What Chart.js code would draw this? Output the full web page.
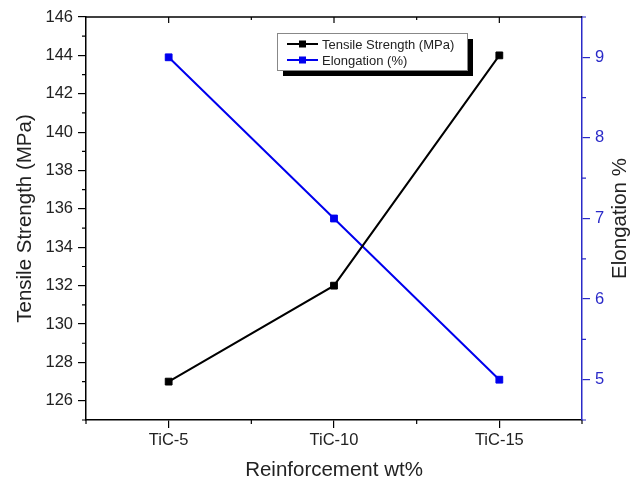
<!DOCTYPE html>
<html>
<head>
<meta charset="utf-8">
<script src="https://cdn.jsdelivr.net/npm/chart.js@4/dist/chart.umd.min.js"></script>
<style>
  body { margin: 0; background: #fff; }
  #wrap { width: 638px; height: 483px; position: relative; }
</style>
</head>
<body>
<div id="wrap"><canvas id="chart"></canvas></div>
<script>
// dados
const categories = ['TiC-5', 'TiC-10', 'TiC-15'];
const tensileStrength = [127, 132, 144];
const elongation = [9, 7, 5];
const tensileTicks = [126, 128, 130, 132, 134, 136, 138, 140, 142, 144, 146];
const elongationTicks = [5, 6, 7, 8, 9];
const tensileMinorTicks = [125, 127, 129, 131, 133, 135, 137, 139, 141, 143, 145];
const elongationMinorTicks = [4.5, 5.5, 6.5, 7.5, 8.5, 9.5];

const FONT = "'Liberation Sans', Arial, sans-serif";
const BLUE = '#0000ee';
const AXIS_BLUE = '#2a2ac8';

// ticks menores, moldura de cima, títulos e legenda
const extras = {
  id: 'extras',
  afterDraw(chart) {
    const ctx = chart.ctx;
    const a = chart.chartArea;
    const x = chart.scales.x, y = chart.scales.y, y1 = chart.scales.y1;
    ctx.save();

    // moldura de cima
    ctx.strokeStyle = '#000';
    ctx.lineWidth = 1.5;
    ctx.beginPath();
    ctx.moveTo(a.left, a.top);
    ctx.lineTo(a.right, a.top);
    ctx.stroke();

    ctx.lineWidth = 1.2;
    ctx.beginPath();
    tensileMinorTicks.forEach(v => {
      const py = y.getPixelForValue(v);
      ctx.moveTo(a.left, py); ctx.lineTo(a.left - 4, py);
    });
    // ticks de cima e de baixo
    const step = x.getPixelForValue(1) - x.getPixelForValue(0);
    categories.forEach((c, i) => {
      const px = x.getPixelForValue(i);
      ctx.moveTo(px, a.top); ctx.lineTo(px, a.top + 6);
    });
    for (let i = -1; i < categories.length; i++) {
      const px = x.getPixelForValue(i) + step / 2;
      ctx.moveTo(px, a.bottom); ctx.lineTo(px, a.bottom + 4);
      if (i >= 0 && i < categories.length - 1) {
        ctx.moveTo(px, a.top); ctx.lineTo(px, a.top + 3);
      }
    }
    ctx.stroke();

    ctx.strokeStyle = AXIS_BLUE;
    ctx.beginPath();
    elongationMinorTicks.forEach(v => {
      const py = y1.getPixelForValue(v);
      ctx.moveTo(a.right, py); ctx.lineTo(a.right + 4, py);
    });
    ctx.stroke();

    // títulos dos eixos
    ctx.fillStyle = '#222';
    ctx.font = '20.5px ' + FONT;
    ctx.textAlign = 'center';
    ctx.textBaseline = 'middle';
    const midY = (a.top + a.bottom) / 2;
    ctx.fillText('Reinforcement wt%', (a.left + a.right) / 2, 470);
    ctx.save();
    ctx.translate(25, midY);
    ctx.rotate(-Math.PI / 2);
    ctx.fillText('Tensile Strength (MPa)', 0, 0);
    ctx.restore();
    ctx.save();
    ctx.translate(620, midY);
    ctx.rotate(-Math.PI / 2);
    ctx.fillText('Elongation %', 0, 0);
    ctx.restore();

    // legenda com sombra
    const lx = 277, ly = 33, lw = 190, lh = 37;
    ctx.fillStyle = '#000';
    ctx.fillRect(lx + 6, ly + 6, lw, lh);
    ctx.fillStyle = '#fff';
    ctx.fillRect(lx, ly, lw, lh);
    ctx.strokeStyle = '#888';
    ctx.lineWidth = 1;
    ctx.strokeRect(lx + 0.5, ly + 0.5, lw, lh);
    const rows = [
      { label: 'Tensile Strength (MPa)', color: '#000', y: 44 },
      { label: 'Elongation (%)', color: BLUE, y: 60 }
    ];
    ctx.font = '13px ' + FONT;
    ctx.textAlign = 'left';
    rows.forEach(r => {
      ctx.strokeStyle = r.color;
      ctx.lineWidth = 2;
      ctx.beginPath();
      ctx.moveTo(287, r.y); ctx.lineTo(318, r.y);
      ctx.stroke();
      ctx.fillStyle = r.color;
      ctx.fillRect(299, r.y - 3.5, 7, 7);
      ctx.fillStyle = '#222';
      ctx.fillText(r.label, 322, r.y + 1);
    });
    ctx.restore();
  }
};

const ctx = document.getElementById('chart').getContext('2d');
const chart = new Chart(ctx, {
  type: 'line',
  data: {
    labels: categories,
    datasets: [
      {
        label: 'Tensile Strength (MPa)',
        data: tensileStrength,
        yAxisID: 'y',
        borderColor: '#000',
        backgroundColor: '#000',
        borderWidth: 2,
        pointStyle: 'rect',
        pointRadius: 4.8,
        pointBorderWidth: 1,
        tension: 0
      },
      {
        label: 'Elongation (%)',
        data: elongation,
        yAxisID: 'y1',
        borderColor: BLUE,
        backgroundColor: BLUE,
        borderWidth: 2,
        pointStyle: 'rect',
        pointRadius: 4.8,
        pointBorderWidth: 1,
        tension: 0
      }
    ]
  },
  options: {
    responsive: true,
    maintainAspectRatio: false,
    animation: false,
    layout: { padding: { top: 17, left: 0, right: 0, bottom: 0 } },
    plugins: {
      legend: { display: false },
      tooltip: { enabled: false }
    },
    scales: {
      x: {
        offset: true,
        grid: { drawOnChartArea: false, tickLength: 8, color: '#000', lineWidth: 1.2 },
        border: { color: '#000', width: 1.5 },
        ticks: { font: { size: 16.5, family: FONT }, color: '#222', padding: 3 },
        afterFit(s) { s.height = 63; }
      },
      y: {
        position: 'left',
        min: 125,
        max: 146,
        grid: { drawOnChartArea: false, tickLength: 8, color: '#000', lineWidth: 1.2 },
        border: { color: '#000', width: 1.5 },
        ticks: { font: { size: 16.5, family: FONT }, color: '#222', padding: 5 },
        afterBuildTicks(s) { s.ticks = tensileTicks.map(v => ({ value: v })); },
        afterFit(s) { s.width = 86; }
      },
      y1: {
        position: 'right',
        min: 4.5,
        max: 9.5,
        grid: { drawOnChartArea: false, tickLength: 8, color: AXIS_BLUE, lineWidth: 1.2 },
        border: { color: AXIS_BLUE, width: 1.5 },
        ticks: { font: { size: 16.5, family: FONT }, color: AXIS_BLUE, padding: 5 },
        afterBuildTicks(s) { s.ticks = elongationTicks.map(v => ({ value: v })); },
        afterFit(s) { s.width = 56; }
      }
    }
  },
  plugins: [extras]
});
</script>
</body>
</html>
